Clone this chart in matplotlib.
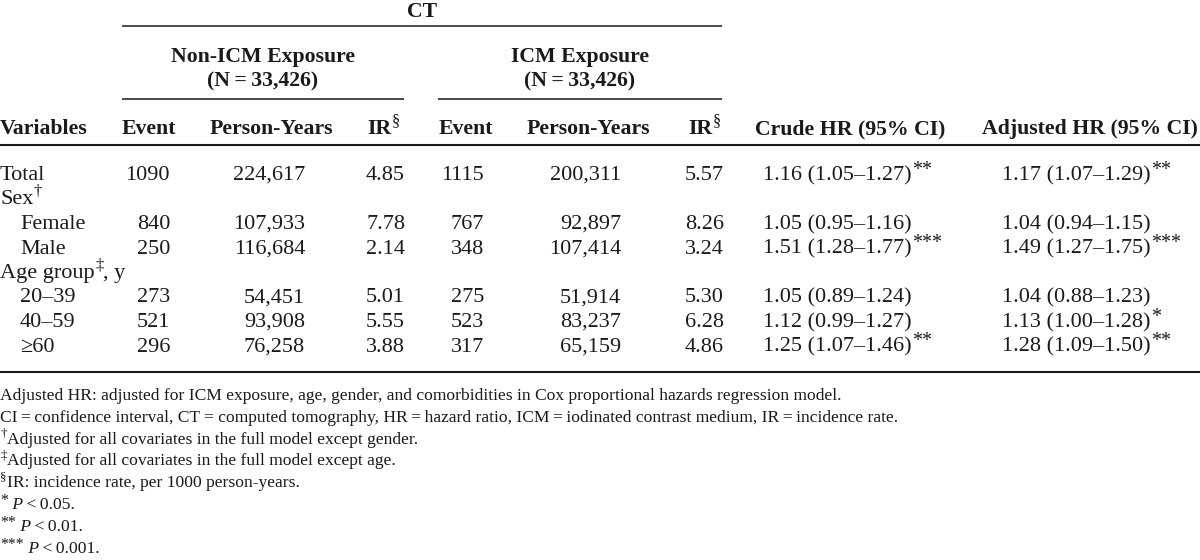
import matplotlib
matplotlib.use("Agg")
import matplotlib.pyplot as plt

# ---------------- data ----------------
row_labels = ["Total", "Sex", "Female", "Male", "Age group", "20\u201339", "40\u201359", "\u226560"]
row_sup = ["", "\u2020", "", "", "\u2021", "", "", ""]
row_suffix = ["", "", "", "", ", y", "", "", ""]
row_indent = [False, False, True, True, False, True, True, True]

event_non = [1090, None, 840, 250, None, 273, 521, 296]
py_non = [224617, None, 107933, 116684, None, 54451, 93908, 76258]
ir_non = [4.85, None, 7.78, 2.14, None, 5.01, 5.55, 3.88]
event_icm = [1115, None, 767, 348, None, 275, 523, 317]
py_icm = [200311, None, 92897, 107414, None, 51914, 83237, 65159]
ir_icm = [5.57, None, 8.26, 3.24, None, 5.30, 6.28, 4.86]

crude_hr = [1.16, None, 1.05, 1.51, None, 1.05, 1.12, 1.25]
crude_lo = [1.05, None, 0.95, 1.28, None, 0.89, 0.99, 1.07]
crude_hi = [1.27, None, 1.16, 1.77, None, 1.24, 1.27, 1.46]
crude_sig = ["**", "", "", "***", "", "", "", "**"]
adj_hr = [1.17, None, 1.04, 1.49, None, 1.04, 1.13, 1.28]
adj_lo = [1.07, None, 0.94, 1.27, None, 0.88, 1.00, 1.09]
adj_hi = [1.29, None, 1.15, 1.75, None, 1.23, 1.28, 1.50]
adj_sig = ["**", "", "", "***", "", "", "*", "**"]

group_titles = ["Non-ICM Exposure", "ICM Exposure"]
group_n = ["(N\u2009=\u200933,426)", "(N\u2009=\u200933,426)"]
col_headers = ["Variables", "Event", "Person-Years", "IR", "Event", "Person-Years", "IR",
               "Crude HR (95% CI)", "Adjusted HR (95% CI)"]

footnotes = [
    [("", "Adjusted HR: adjusted for ICM exposure, age, gender, and comorbidities in Cox proportional hazards regression model.")],
    [("", "CI\u2009=\u2009confidence interval, CT = computed tomography, HR\u2009=\u2009hazard ratio, ICM\u2009=\u2009iodinated contrast medium, IR\u2009=\u2009incidence rate.")],
    [("s", "\u2020"), ("", "Adjusted for all covariates in the full model except gender.")],
    [("s", "\u2021"), ("", "Adjusted for all covariates in the full model except age.")],
    [("s", "\u00a7"), ("", "IR: incidence rate, per 1000 person-years.")],
    [("s", "*"), ("i", " P"), ("", "\u2009<\u20090.05.")],
    [("s", "**"), ("i", " P"), ("", "\u2009<\u20090.01.")],
    [("s", "***"), ("i", " P"), ("", "\u2009<\u20090.001.")],
]

# ---------------- drawing ----------------
FONT = ["Liberation Serif", "DejaVu Serif"]
W, H = 1200, 560
fig = plt.figure(figsize=(W / 100, H / 100), dpi=100)
ax = fig.add_axes([0, 0, 1, 1])
ax.set_xlim(0, W)
ax.set_ylim(H, 0)
ax.axis("off")
fig.canvas.draw()
renderer = fig.canvas.get_renderer()

BODY = 16.0
HEAD = 15.7
FOOT = 12.6
COLOR = "#1a1a1a"


def runs(x, y, parts, size, ha="left", bold=False):
    """Draw a sequence of text runs on a common baseline. y is baseline (px)."""
    texts = []
    cx = x
    for kind, s in parts:
        if kind == "s":
            if s.startswith("*"):
                fs = size * 0.9
                dy = -size * 0.32
            else:
                fs = size * 0.75
                dy = -size * 0.55
            cx += size * 0.03
        else:
            fs = size
            dy = 0
        t = ax.text(cx, y + dy, s, fontsize=fs, family=FONT, color=COLOR,
                    fontweight="bold" if (bold and kind != "s") else "normal",
                    fontstyle="italic" if kind == "i" else "normal",
                    ha="left", va="baseline")
        w = t.get_window_extent(renderer).width
        texts.append(t)
        cx += w
    total = cx - x
    shift = 0
    if ha == "right":
        shift = -total
    elif ha == "center":
        shift = -total / 2
    if shift:
        for t in texts:
            t.set_x(t.get_position()[0] + shift)
    return texts


def hline(x0, x1, y, lw):
    ax.plot([x0, x1], [y, y], color=COLOR, lw=lw, solid_capstyle="butt")


# header
runs(422, 17, [("", "CT")], HEAD, ha="center", bold=True)
hline(122, 722, 26, 1.1)
group_centers = [263, 580]
for gx, gt, gn in zip(group_centers, group_titles, group_n):
    runs(gx, 62, [("", gt)], HEAD, ha="center", bold=True)
    runs(gx, 86, [("", gn)], HEAD, ha="center", bold=True)
hline(122, 404, 99, 1.1)
hline(438, 722, 99, 1.1)

hdr_y = 134
runs(0, hdr_y, [("", col_headers[0])], HEAD, bold=True)
hdr_centers = [149, 271, 384, 466, 588, 705]
for i, cx in enumerate(hdr_centers):
    lab = col_headers[i + 1]
    parts = [("", lab)]
    if lab == "IR":
        parts.append(("s", "\u00a7"))
    runs(cx, hdr_y, parts, HEAD, ha="center", bold=True)
runs(755, hdr_y, [("", col_headers[7])], HEAD, bold=True)
runs(1198, hdr_y, [("", col_headers[8])], HEAD, ha="right", bold=True)
hline(0, W, 145, 1.5)

# body
row_y0 = 180
row_dy = 24.5
right_cols = [(event_non, 170, "{:d}"), (py_non, 305, "{:,}"), (ir_non, 405, "{:.2f}"),
              (event_icm, 484, "{:d}"), (py_icm, 621, "{:,}"), (ir_icm, 724, "{:.2f}")]
for r, lab in enumerate(row_labels):
    y = row_y0 + r * row_dy
    parts = [("", lab)]
    if row_sup[r]:
        parts.append(("s", row_sup[r]))
    if row_suffix[r]:
        parts.append(("", row_suffix[r]))
    runs(20 if row_indent[r] else 0, y, parts, BODY)
    for vals, xr, fmt in right_cols:
        v = vals[r]
        if v is not None:
            runs(xr, y, [("", fmt.format(v))], BODY, ha="right")
    if crude_hr[r] is not None:
        s = f"{crude_hr[r]:.2f} ({crude_lo[r]:.2f}\u2013{crude_hi[r]:.2f})"
        parts = [("", s)]
        if crude_sig[r]:
            parts.append(("s", crude_sig[r]))
        runs(763, y, parts, BODY)
    if adj_hr[r] is not None:
        s = f"{adj_hr[r]:.2f} ({adj_lo[r]:.2f}\u2013{adj_hi[r]:.2f})"
        parts = [("", s)]
        if adj_sig[r]:
            parts.append(("s", adj_sig[r]))
        runs(1002, y, parts, BODY)

hline(0, W, 372, 1.5)

# footnotes
fy0 = 400
fdy = 21.8
for i, parts in enumerate(footnotes):
    runs(0, fy0 + i * fdy, parts, FOOT)

fig.savefig("out.png", dpi=100)
